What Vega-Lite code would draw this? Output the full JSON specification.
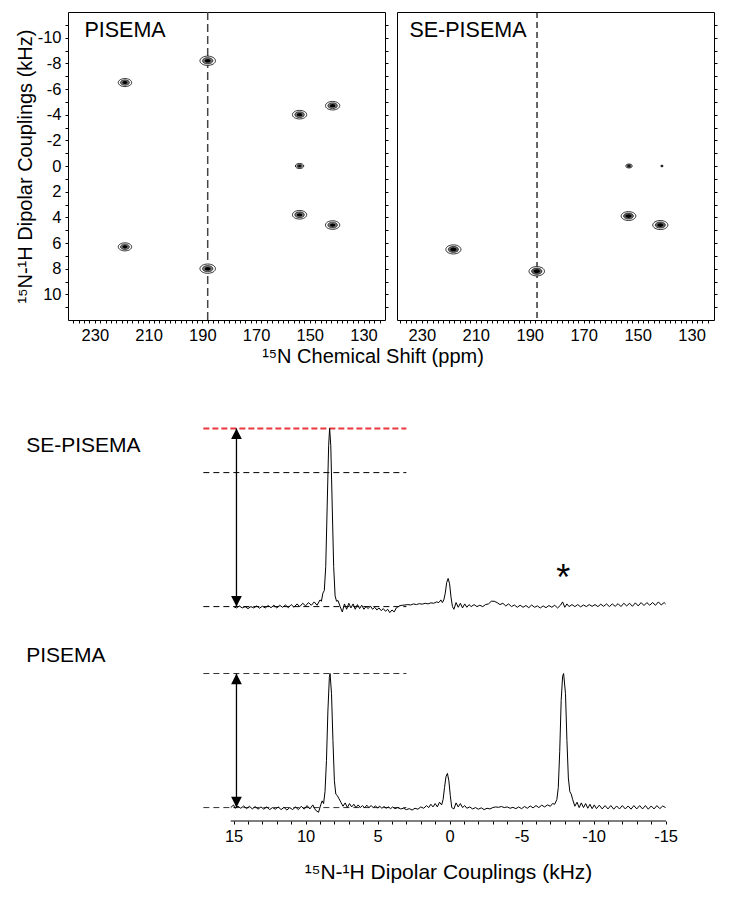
{
"$schema": "https://vega.github.io/schema/vega-lite/v6.json",
"background": "white",
"padding": {"left": 14, "top": 10, "right": 5, "bottom": 5},
"config": {
  "view": {"stroke": null},
  "font": "Liberation Sans",
  "axis": {"labelFont": "Liberation Sans", "titleFont": "Liberation Sans", "labelColor": "#000", "titleColor": "#000", "tickColor": "#000", "domainColor": "#000", "grid": false, "titleFontWeight": "normal", "labelOverlap": false, "labelFlush": false}
},
"datasets": {
  "pisema2d": [
    {"cs": 218.8, "dc": -6.5, "intensity": 0.75},
    {"cs": 218.8, "dc": 6.3, "intensity": 0.75},
    {"cs": 188.0, "dc": -8.2, "intensity": 1.0},
    {"cs": 188.0, "dc": 8.0, "intensity": 1.0},
    {"cs": 153.8, "dc": -4.0, "intensity": 0.85},
    {"cs": 141.5, "dc": -4.7, "intensity": 0.85},
    {"cs": 153.8, "dc": 0.0, "intensity": 0.3},
    {"cs": 153.8, "dc": 3.8, "intensity": 0.85},
    {"cs": 141.5, "dc": 4.6, "intensity": 0.85}
  ],
  "sepisema2d": [
    {"cs": 218.3, "dc": 6.5, "intensity": 0.95},
    {"cs": 187.4, "dc": 8.2, "intensity": 1.0},
    {"cs": 153.2, "dc": 0.0, "intensity": 0.18},
    {"cs": 141.0, "dc": 0.0, "intensity": 0.03},
    {"cs": 153.4, "dc": 3.9, "intensity": 0.9},
    {"cs": 141.6, "dc": 4.6, "intensity": 0.95}
  ],
  "se1d": [
    {"khz": 15.0, "intensity": 0.0}, {"khz": 14.8, "intensity": -0.01}, {"khz": 14.6, "intensity": 0.005}, {"khz": 14.4, "intensity": -0.01}, {"khz": 14.2, "intensity": 0.0}, {"khz": 14.0, "intensity": -0.015}, {"khz": 13.8, "intensity": 0.0}, {"khz": 13.6, "intensity": -0.01}, {"khz": 13.4, "intensity": 0.005}, {"khz": 13.2, "intensity": -0.012}, {"khz": 13.0, "intensity": 0.003}, {"khz": 12.8, "intensity": -0.01}, {"khz": 12.6, "intensity": 0.008}, {"khz": 12.4, "intensity": -0.008}, {"khz": 12.2, "intensity": 0.01}, {"khz": 12.0, "intensity": -0.01}, {"khz": 11.8, "intensity": 0.01}, {"khz": 11.6, "intensity": -0.005}, {"khz": 11.4, "intensity": 0.012}, {"khz": 11.2, "intensity": -0.008}, {"khz": 11.0, "intensity": 0.015}, {"khz": 10.8, "intensity": -0.005}, {"khz": 10.6, "intensity": 0.02}, {"khz": 10.4, "intensity": 0.0}, {"khz": 10.2, "intensity": 0.025}, {"khz": 10.0, "intensity": 0.005}, {"khz": 9.8, "intensity": 0.03}, {"khz": 9.6, "intensity": 0.01}, {"khz": 9.4, "intensity": 0.035}, {"khz": 9.2, "intensity": 0.01}, {"khz": 9.0, "intensity": 0.05}, {"khz": 8.9, "intensity": 0.04}, {"khz": 8.8, "intensity": 0.1}, {"khz": 8.7, "intensity": 0.12}, {"khz": 8.6, "intensity": 0.3}, {"khz": 8.5, "intensity": 0.75}, {"khz": 8.4, "intensity": 1.2}, {"khz": 8.33, "intensity": 1.33}, {"khz": 8.25, "intensity": 1.2}, {"khz": 8.15, "intensity": 0.75}, {"khz": 8.05, "intensity": 0.3}, {"khz": 7.95, "intensity": 0.08}, {"khz": 7.85, "intensity": 0.04}, {"khz": 7.75, "intensity": 0.045}, {"khz": 7.6, "intensity": 0.0}, {"khz": 7.45, "intensity": -0.04}, {"khz": 7.3, "intensity": 0.02}, {"khz": 7.15, "intensity": -0.02}, {"khz": 7.0, "intensity": 0.025}, {"khz": 6.85, "intensity": -0.01}, {"khz": 6.7, "intensity": 0.02}, {"khz": 6.55, "intensity": -0.02}, {"khz": 6.4, "intensity": 0.015}, {"khz": 6.25, "intensity": -0.015}, {"khz": 6.1, "intensity": 0.01}, {"khz": 5.95, "intensity": -0.02}, {"khz": 5.8, "intensity": 0.0}, {"khz": 5.65, "intensity": -0.015}, {"khz": 5.5, "intensity": 0.005}, {"khz": 5.35, "intensity": -0.02}, {"khz": 5.2, "intensity": -0.005}, {"khz": 5.05, "intensity": -0.025}, {"khz": 4.9, "intensity": -0.01}, {"khz": 4.75, "intensity": -0.03}, {"khz": 4.6, "intensity": -0.015}, {"khz": 4.45, "intensity": -0.035}, {"khz": 4.3, "intensity": -0.02}, {"khz": 4.15, "intensity": -0.045}, {"khz": 4.0, "intensity": -0.025}, {"khz": 3.85, "intensity": -0.04}, {"khz": 3.7, "intensity": -0.01}, {"khz": 3.5, "intensity": 0.005}, {"khz": 3.3, "intensity": 0.01}, {"khz": 3.1, "intensity": 0.012}, {"khz": 2.9, "intensity": 0.015}, {"khz": 2.7, "intensity": 0.012}, {"khz": 2.5, "intensity": 0.02}, {"khz": 2.3, "intensity": 0.015}, {"khz": 2.1, "intensity": 0.022}, {"khz": 1.9, "intensity": 0.018}, {"khz": 1.7, "intensity": 0.025}, {"khz": 1.5, "intensity": 0.02}, {"khz": 1.3, "intensity": 0.028}, {"khz": 1.1, "intensity": 0.025}, {"khz": 0.9, "intensity": 0.035}, {"khz": 0.75, "intensity": 0.03}, {"khz": 0.6, "intensity": 0.05}, {"khz": 0.5, "intensity": 0.03}, {"khz": 0.4, "intensity": 0.05}, {"khz": 0.3, "intensity": 0.1}, {"khz": 0.2, "intensity": 0.18}, {"khz": 0.1, "intensity": 0.21}, {"khz": 0.0, "intensity": 0.17}, {"khz": -0.1, "intensity": 0.07}, {"khz": -0.2, "intensity": 0.0}, {"khz": -0.3, "intensity": -0.02}, {"khz": -0.45, "intensity": 0.03}, {"khz": -0.6, "intensity": -0.005}, {"khz": -0.75, "intensity": 0.025}, {"khz": -0.9, "intensity": -0.01}, {"khz": -1.05, "intensity": 0.02}, {"khz": -1.2, "intensity": -0.005}, {"khz": -1.35, "intensity": 0.015}, {"khz": -1.5, "intensity": 0.0}, {"khz": -1.7, "intensity": 0.015}, {"khz": -1.9, "intensity": 0.0}, {"khz": -2.1, "intensity": 0.01}, {"khz": -2.3, "intensity": 0.0}, {"khz": -2.5, "intensity": 0.015}, {"khz": -2.7, "intensity": 0.02}, {"khz": -2.9, "intensity": 0.04}, {"khz": -3.1, "intensity": 0.04}, {"khz": -3.3, "intensity": 0.03}, {"khz": -3.5, "intensity": 0.015}, {"khz": -3.7, "intensity": 0.025}, {"khz": -3.9, "intensity": 0.005}, {"khz": -4.1, "intensity": 0.02}, {"khz": -4.3, "intensity": 0.0}, {"khz": -4.5, "intensity": 0.012}, {"khz": -4.7, "intensity": -0.005}, {"khz": -4.9, "intensity": 0.01}, {"khz": -5.1, "intensity": -0.005}, {"khz": -5.3, "intensity": 0.008}, {"khz": -5.5, "intensity": -0.008}, {"khz": -5.7, "intensity": 0.012}, {"khz": -5.9, "intensity": -0.005}, {"khz": -6.1, "intensity": 0.005}, {"khz": -6.3, "intensity": -0.01}, {"khz": -6.5, "intensity": 0.005}, {"khz": -6.7, "intensity": -0.008}, {"khz": -6.9, "intensity": 0.008}, {"khz": -7.1, "intensity": -0.005}, {"khz": -7.3, "intensity": 0.01}, {"khz": -7.5, "intensity": -0.01}, {"khz": -7.7, "intensity": 0.01}, {"khz": -7.85, "intensity": 0.035}, {"khz": -8.0, "intensity": -0.005}, {"khz": -8.15, "intensity": 0.02}, {"khz": -8.3, "intensity": 0.0}, {"khz": -8.5, "intensity": 0.015}, {"khz": -8.7, "intensity": 0.0}, {"khz": -8.9, "intensity": 0.015}, {"khz": -9.1, "intensity": -0.002}, {"khz": -9.3, "intensity": 0.012}, {"khz": -9.5, "intensity": 0.0}, {"khz": -9.7, "intensity": 0.015}, {"khz": -9.9, "intensity": 0.002}, {"khz": -10.1, "intensity": 0.015}, {"khz": -10.3, "intensity": 0.0}, {"khz": -10.5, "intensity": 0.018}, {"khz": -10.7, "intensity": 0.002}, {"khz": -10.9, "intensity": 0.02}, {"khz": -11.1, "intensity": 0.0}, {"khz": -11.3, "intensity": 0.02}, {"khz": -11.5, "intensity": 0.002}, {"khz": -11.7, "intensity": 0.022}, {"khz": -11.9, "intensity": 0.0}, {"khz": -12.1, "intensity": 0.025}, {"khz": -12.3, "intensity": 0.005}, {"khz": -12.5, "intensity": 0.025}, {"khz": -12.7, "intensity": 0.002}, {"khz": -12.9, "intensity": 0.028}, {"khz": -13.1, "intensity": 0.005}, {"khz": -13.3, "intensity": 0.03}, {"khz": -13.5, "intensity": 0.008}, {"khz": -13.7, "intensity": 0.03}, {"khz": -13.9, "intensity": 0.01}, {"khz": -14.1, "intensity": 0.03}, {"khz": -14.3, "intensity": 0.01}, {"khz": -14.5, "intensity": 0.035}, {"khz": -14.7, "intensity": 0.012}, {"khz": -14.9, "intensity": 0.03}, {"khz": -15.0, "intensity": 0.02}
  ],
  "pisema1d": [
    {"khz": 15.2, "intensity": 0.0}, {"khz": 15.0, "intensity": 0.02}, {"khz": 14.9, "intensity": -0.005}, {"khz": 14.7, "intensity": 0.01}, {"khz": 14.5, "intensity": -0.005}, {"khz": 14.3, "intensity": 0.012}, {"khz": 14.1, "intensity": -0.008}, {"khz": 13.9, "intensity": 0.01}, {"khz": 13.7, "intensity": -0.01}, {"khz": 13.5, "intensity": 0.008}, {"khz": 13.3, "intensity": -0.012}, {"khz": 13.1, "intensity": 0.005}, {"khz": 12.9, "intensity": -0.012}, {"khz": 12.7, "intensity": 0.005}, {"khz": 12.5, "intensity": -0.015}, {"khz": 12.3, "intensity": 0.0}, {"khz": 12.1, "intensity": -0.012}, {"khz": 11.9, "intensity": 0.005}, {"khz": 11.7, "intensity": -0.015}, {"khz": 11.5, "intensity": 0.002}, {"khz": 11.3, "intensity": -0.018}, {"khz": 11.1, "intensity": 0.0}, {"khz": 10.9, "intensity": -0.015}, {"khz": 10.7, "intensity": 0.005}, {"khz": 10.5, "intensity": -0.015}, {"khz": 10.3, "intensity": 0.01}, {"khz": 10.1, "intensity": -0.012}, {"khz": 9.9, "intensity": 0.015}, {"khz": 9.7, "intensity": -0.01}, {"khz": 9.5, "intensity": 0.02}, {"khz": 9.3, "intensity": -0.02}, {"khz": 9.1, "intensity": -0.035}, {"khz": 8.95, "intensity": 0.02}, {"khz": 8.85, "intensity": 0.05}, {"khz": 8.75, "intensity": 0.03}, {"khz": 8.65, "intensity": 0.12}, {"khz": 8.55, "intensity": 0.35}, {"khz": 8.45, "intensity": 0.72}, {"khz": 8.35, "intensity": 0.97}, {"khz": 8.3, "intensity": 1.0}, {"khz": 8.2, "intensity": 0.85}, {"khz": 8.1, "intensity": 0.5}, {"khz": 8.0, "intensity": 0.2}, {"khz": 7.9, "intensity": 0.1}, {"khz": 7.8, "intensity": 0.09}, {"khz": 7.7, "intensity": 0.07}, {"khz": 7.55, "intensity": 0.04}, {"khz": 7.4, "intensity": 0.01}, {"khz": 7.25, "intensity": 0.035}, {"khz": 7.1, "intensity": 0.0}, {"khz": 6.95, "intensity": 0.03}, {"khz": 6.8, "intensity": 0.005}, {"khz": 6.65, "intensity": 0.025}, {"khz": 6.5, "intensity": 0.0}, {"khz": 6.35, "intensity": 0.02}, {"khz": 6.2, "intensity": 0.0}, {"khz": 6.05, "intensity": 0.015}, {"khz": 5.9, "intensity": -0.002}, {"khz": 5.75, "intensity": 0.018}, {"khz": 5.6, "intensity": 0.0}, {"khz": 5.45, "intensity": 0.015}, {"khz": 5.3, "intensity": 0.0}, {"khz": 5.15, "intensity": 0.012}, {"khz": 5.0, "intensity": -0.002}, {"khz": 4.85, "intensity": 0.01}, {"khz": 4.7, "intensity": -0.005}, {"khz": 4.55, "intensity": 0.008}, {"khz": 4.4, "intensity": -0.005}, {"khz": 4.25, "intensity": 0.005}, {"khz": 4.1, "intensity": -0.008}, {"khz": 3.95, "intensity": 0.005}, {"khz": 3.8, "intensity": -0.008}, {"khz": 3.6, "intensity": 0.0}, {"khz": 3.4, "intensity": -0.01}, {"khz": 3.2, "intensity": -0.005}, {"khz": 3.0, "intensity": -0.015}, {"khz": 2.8, "intensity": -0.008}, {"khz": 2.6, "intensity": -0.018}, {"khz": 2.4, "intensity": -0.005}, {"khz": 2.2, "intensity": -0.012}, {"khz": 2.0, "intensity": 0.005}, {"khz": 1.8, "intensity": -0.005}, {"khz": 1.6, "intensity": 0.015}, {"khz": 1.45, "intensity": 0.0}, {"khz": 1.3, "intensity": 0.025}, {"khz": 1.15, "intensity": 0.005}, {"khz": 1.0, "intensity": 0.03}, {"khz": 0.85, "intensity": 0.005}, {"khz": 0.7, "intensity": 0.04}, {"khz": 0.55, "intensity": 0.02}, {"khz": 0.45, "intensity": 0.06}, {"khz": 0.35, "intensity": 0.15}, {"khz": 0.25, "intensity": 0.23}, {"khz": 0.15, "intensity": 0.255}, {"khz": 0.05, "intensity": 0.2}, {"khz": -0.05, "intensity": 0.09}, {"khz": -0.15, "intensity": 0.0}, {"khz": -0.3, "intensity": -0.01}, {"khz": -0.45, "intensity": 0.035}, {"khz": -0.6, "intensity": 0.005}, {"khz": -0.75, "intensity": 0.03}, {"khz": -0.9, "intensity": 0.0}, {"khz": -1.05, "intensity": 0.015}, {"khz": -1.2, "intensity": -0.005}, {"khz": -1.4, "intensity": 0.005}, {"khz": -1.6, "intensity": -0.01}, {"khz": -1.8, "intensity": 0.0}, {"khz": -2.0, "intensity": -0.012}, {"khz": -2.2, "intensity": -0.002}, {"khz": -2.4, "intensity": -0.015}, {"khz": -2.6, "intensity": -0.005}, {"khz": -2.8, "intensity": -0.01}, {"khz": -3.0, "intensity": 0.0}, {"khz": -3.2, "intensity": 0.005}, {"khz": -3.4, "intensity": 0.002}, {"khz": -3.6, "intensity": 0.008}, {"khz": -3.8, "intensity": 0.0}, {"khz": -4.0, "intensity": 0.005}, {"khz": -4.2, "intensity": -0.005}, {"khz": -4.4, "intensity": 0.002}, {"khz": -4.6, "intensity": -0.008}, {"khz": -4.8, "intensity": 0.005}, {"khz": -5.0, "intensity": -0.008}, {"khz": -5.2, "intensity": 0.008}, {"khz": -5.4, "intensity": -0.005}, {"khz": -5.6, "intensity": 0.012}, {"khz": -5.8, "intensity": -0.002}, {"khz": -6.0, "intensity": 0.015}, {"khz": -6.2, "intensity": 0.0}, {"khz": -6.4, "intensity": 0.018}, {"khz": -6.6, "intensity": 0.005}, {"khz": -6.8, "intensity": 0.02}, {"khz": -7.0, "intensity": 0.01}, {"khz": -7.15, "intensity": 0.03}, {"khz": -7.3, "intensity": 0.025}, {"khz": -7.45, "intensity": 0.06}, {"khz": -7.55, "intensity": 0.15}, {"khz": -7.65, "intensity": 0.42}, {"khz": -7.75, "intensity": 0.8}, {"khz": -7.85, "intensity": 0.98}, {"khz": -7.92, "intensity": 1.0}, {"khz": -8.05, "intensity": 0.85}, {"khz": -8.15, "intensity": 0.5}, {"khz": -8.25, "intensity": 0.22}, {"khz": -8.35, "intensity": 0.12}, {"khz": -8.45, "intensity": 0.1}, {"khz": -8.55, "intensity": 0.06}, {"khz": -8.7, "intensity": 0.01}, {"khz": -8.85, "intensity": 0.04}, {"khz": -9.0, "intensity": 0.0}, {"khz": -9.15, "intensity": 0.035}, {"khz": -9.3, "intensity": 0.0}, {"khz": -9.45, "intensity": 0.03}, {"khz": -9.6, "intensity": -0.005}, {"khz": -9.75, "intensity": 0.025}, {"khz": -9.9, "intensity": -0.008}, {"khz": -10.05, "intensity": 0.02}, {"khz": -10.2, "intensity": -0.008}, {"khz": -10.4, "intensity": 0.018}, {"khz": -10.6, "intensity": -0.01}, {"khz": -10.8, "intensity": 0.015}, {"khz": -11.0, "intensity": -0.01}, {"khz": -11.2, "intensity": 0.015}, {"khz": -11.4, "intensity": -0.012}, {"khz": -11.6, "intensity": 0.012}, {"khz": -11.8, "intensity": -0.01}, {"khz": -12.0, "intensity": 0.015}, {"khz": -12.2, "intensity": -0.01}, {"khz": -12.4, "intensity": 0.012}, {"khz": -12.6, "intensity": -0.012}, {"khz": -12.8, "intensity": 0.015}, {"khz": -13.0, "intensity": -0.01}, {"khz": -13.2, "intensity": 0.015}, {"khz": -13.4, "intensity": -0.01}, {"khz": -13.6, "intensity": 0.015}, {"khz": -13.8, "intensity": -0.012}, {"khz": -14.0, "intensity": 0.012}, {"khz": -14.2, "intensity": -0.01}, {"khz": -14.4, "intensity": 0.015}, {"khz": -14.6, "intensity": -0.008}, {"khz": -14.8, "intensity": 0.012}, {"khz": -15.0, "intensity": 0.0}
  ]
},
"spacing": 52,
"vconcat": [
  {
    "bounds": "flush",
    "spacing": 12,
    "hconcat": [
      {
        "width": 317, "height": 308,
        "view": {"stroke": "#000", "strokeWidth": 1},
        "resolve": {"axis": {"y": "independent"}, "scale": {"size": "independent"}},
        "layer": [
          {
            "data": {"values": [{}]},
            "mark": {"type": "rule", "color": "#444", "strokeDash": [8, 4], "strokeWidth": 1.5},
            "encoding": {"x": {"datum": 188, "type": "quantitative", "scale": {"domain": [122, 240], "reverse": true, "nice": false, "zero": false}}}
          },
          {
            "data": {"name": "pisema2d"},
            "mark": {"type": "point", "shape": "M-1,0A1,0.6 0 1,0 1,0A1,0.6 0 1,0 -1,0Z", "filled": true, "fill": "#fff", "stroke": "#000", "strokeWidth": 0.8, "opacity": 1},
            "encoding": {
              "x": {"field": "cs", "type": "quantitative", "scale": {"domain": [122, 240], "reverse": true, "nice": false, "zero": false},
                    "axis": {"title": "¹⁵N Chemical Shift (ppm)", "titleX": 304.5, "titleFontSize": 20, "titlePadding": 3, "domain": false, "tickSize": 3, "tickCount": 200, "labelPadding": 4, "labelFontSize": 16.5, "labelOverlap": false, "labelFlush": false,
                             "values": [124,126,128,130,132,134,136,138,140,142,144,146,148,150,152,154,156,158,160,162,164,166,168,170,172,174,176,178,180,182,184,186,188,190,192,194,196,198,200,202,204,206,208,210,212,214,216,218,220,222,224,226,228,230,232,234,236,238],
                             "labelExpr": "datum.value % 20 == 10 ? toString(datum.value) : ''"}},
              "y": {"field": "dc", "type": "quantitative", "scale": {"domain": [-12, 12], "reverse": true, "nice": false, "zero": false},
                    "axis": {"title": "¹⁵N-¹H Dipolar Couplings (kHz)", "titleFontSize": 20, "titlePadding": 2, "domain": false, "tickSize": 3, "tickCount": 200, "labelPadding": 4, "labelFontSize": 16.5, "labelOverlap": false,
                             "values": [-11,-10,-9,-8,-7,-6,-5,-4,-3,-2,-1,0,1,2,3,4,5,6,7,8,9,10,11],
                             "labelExpr": "datum.value % 2 == 0 && abs(datum.value) <= 10 ? toString(datum.value) : ''"}},
              "size": {"field": "intensity", "type": "quantitative", "scale": {"domain": [0, 1], "range": [0, 240]}, "legend": null}
            }
          },
          {
            "data": {"name": "pisema2d"},
            "mark": {"type": "point", "shape": "M-1,0A1,0.6 0 1,0 1,0A1,0.6 0 1,0 -1,0Z", "filled": true, "fill": "#777", "stroke": "#000", "strokeWidth": 0.6, "opacity": 1},
            "encoding": {
              "x": {"field": "cs", "type": "quantitative"},
              "y": {"field": "dc", "type": "quantitative", "axis": null},
              "size": {"field": "intensity", "type": "quantitative", "scale": {"domain": [0, 1], "range": [0, 110]}, "legend": null}
            }
          },
          {
            "data": {"name": "pisema2d"},
            "mark": {"type": "point", "shape": "M-1,0A1,0.6 0 1,0 1,0A1,0.6 0 1,0 -1,0Z", "filled": true, "fill": "#000", "opacity": 1},
            "encoding": {
              "x": {"field": "cs", "type": "quantitative"},
              "y": {"field": "dc", "type": "quantitative", "axis": null},
              "size": {"field": "intensity", "type": "quantitative", "scale": {"domain": [0, 1], "range": [0, 35]}, "legend": null}
            }
          },
          {
            "data": {"name": "pisema2d"},
            "mark": {"type": "point", "opacity": 0},
            "encoding": {
              "x": {"field": "cs", "type": "quantitative"},
              "y": {"field": "dc", "type": "quantitative", "axis": {"orient": "right", "title": null, "labels": false, "domain": false, "tickSize": 3, "tickCount": 200, "values": [-11,-10,-9,-8,-7,-6,-5,-4,-3,-2,-1,0,1,2,3,4,5,6,7,8,9,10,11]}}
            }
          },
          {
            "data": {"values": [{}]},
            "mark": {"type": "text", "text": "PISEMA", "align": "left", "baseline": "middle", "fontSize": 21.5, "font": "Liberation Sans", "color": "#000"},
            "encoding": {"x": {"datum": 233.9, "type": "quantitative"}, "y": {"datum": -10.5, "type": "quantitative", "axis": null}}
          }
        ]
      },
      {
        "width": 317, "height": 308,
        "view": {"stroke": "#000", "strokeWidth": 1},
        "resolve": {"scale": {"size": "independent"}},
        "layer": [
          {
            "data": {"values": [{}]},
            "mark": {"type": "rule", "color": "#000", "strokeDash": [6, 4], "strokeWidth": 1.2},
            "encoding": {"x": {"datum": 187.3, "type": "quantitative", "scale": {"domain": [121.7, 239.2], "reverse": true, "nice": false, "zero": false}}}
          },
          {
            "data": {"name": "sepisema2d"},
            "mark": {"type": "point", "shape": "M-1,0A1,0.6 0 1,0 1,0A1,0.6 0 1,0 -1,0Z", "filled": true, "fill": "#fff", "stroke": "#000", "strokeWidth": 0.8, "opacity": 1},
            "encoding": {
              "x": {"field": "cs", "type": "quantitative", "scale": {"domain": [121.7, 239.2], "reverse": true, "nice": false, "zero": false},
                    "axis": {"title": null, "domain": false, "tickSize": 3, "tickCount": 200, "labelPadding": 4, "labelFontSize": 16.5, "labelOverlap": false, "labelFlush": false,
                             "values": [124,126,128,130,132,134,136,138,140,142,144,146,148,150,152,154,156,158,160,162,164,166,168,170,172,174,176,178,180,182,184,186,188,190,192,194,196,198,200,202,204,206,208,210,212,214,216,218,220,222,224,226,228,230,232,234,236,238],
                             "labelExpr": "datum.value % 20 == 10 ? toString(datum.value) : ''"}},
              "y": {"field": "dc", "type": "quantitative", "scale": {"domain": [-12, 12], "reverse": true, "nice": false, "zero": false},
                    "axis": {"orient": "right", "title": null, "labels": false, "domain": false, "tickSize": 3, "tickCount": 200, "values": [-11,-10,-9,-8,-7,-6,-5,-4,-3,-2,-1,0,1,2,3,4,5,6,7,8,9,10,11]}},
              "size": {"field": "intensity", "type": "quantitative", "scale": {"domain": [0, 1], "range": [0, 240]}, "legend": null}
            }
          },
          {
            "data": {"name": "sepisema2d"},
            "mark": {"type": "point", "shape": "M-1,0A1,0.6 0 1,0 1,0A1,0.6 0 1,0 -1,0Z", "filled": true, "fill": "#666", "stroke": "#000", "strokeWidth": 0.6, "opacity": 1},
            "encoding": {
              "x": {"field": "cs", "type": "quantitative"},
              "y": {"field": "dc", "type": "quantitative"},
              "size": {"field": "intensity", "type": "quantitative", "scale": {"domain": [0, 1], "range": [0, 110]}, "legend": null}
            }
          },
          {
            "data": {"name": "sepisema2d"},
            "mark": {"type": "point", "shape": "M-1,0A1,0.6 0 1,0 1,0A1,0.6 0 1,0 -1,0Z", "filled": true, "fill": "#000", "opacity": 1},
            "encoding": {
              "x": {"field": "cs", "type": "quantitative"},
              "y": {"field": "dc", "type": "quantitative"},
              "size": {"field": "intensity", "type": "quantitative", "scale": {"domain": [0, 1], "range": [0, 40]}, "legend": null}
            }
          },
          {
            "data": {"values": [{}]},
            "mark": {"type": "text", "text": "SE-PISEMA", "align": "left", "baseline": "middle", "fontSize": 21.5, "font": "Liberation Sans", "color": "#000"},
            "encoding": {"x": {"datum": 234.6, "type": "quantitative"}, "y": {"datum": -10.5, "type": "quantitative"}}
          }
        ]
      }
    ]
  },
  {
    "bounds": "flush",
    "spacing": 20,
    "vconcat": [
      {
        "width": 598, "height": 201,
        "layer": [
          {
            "data": {"values": [{}]},
            "mark": {"type": "rule", "color": "#000", "strokeDash": [6, 4], "strokeWidth": 1},
            "encoding": {"x": {"datum": 17.1, "type": "quantitative", "scale": {"domain": [-15.03, 26.5], "reverse": true, "nice": false, "zero": false}, "axis": null}, "x2": {"datum": 3.0}, "y": {"datum": 1.0, "type": "quantitative", "scale": {"domain": [-0.1, 1.4], "nice": false, "zero": false}, "axis": null}}
          },
          {
            "data": {"values": [{}]},
            "mark": {"type": "rule", "color": "#000", "strokeDash": [6, 4], "strokeWidth": 1},
            "encoding": {"x": {"datum": 17.1, "type": "quantitative", "scale": {"domain": [-15.03, 26.5], "reverse": true, "nice": false, "zero": false}, "axis": null}, "x2": {"datum": 3.0}, "y": {"datum": 0, "type": "quantitative", "scale": {"domain": [-0.1, 1.4], "nice": false, "zero": false}, "axis": null}}
          },
          {
            "data": {"values": [{}]},
            "mark": {"type": "rule", "color": "#e8383d", "strokeDash": [6, 3], "strokeWidth": 2},
            "encoding": {"x": {"datum": 17.1, "type": "quantitative", "scale": {"domain": [-15.03, 26.5], "reverse": true, "nice": false, "zero": false}, "axis": null}, "x2": {"datum": 3.0}, "y": {"datum": 1.33, "type": "quantitative", "scale": {"domain": [-0.1, 1.4], "nice": false, "zero": false}, "axis": null}}
          },
          {
            "data": {"values": [{}]},
            "mark": {"type": "rule", "color": "#000", "strokeWidth": 1.3},
            "encoding": {"x": {"datum": 14.8, "type": "quantitative", "scale": {"domain": [-15.03, 26.5], "reverse": true, "nice": false, "zero": false}, "axis": null}, "y": {"datum": 0, "type": "quantitative", "scale": {"domain": [-0.1, 1.4], "nice": false, "zero": false}, "axis": null}, "y2": {"datum": 1.33}}
          },
          {
            "data": {"values": [{}]},
            "mark": {"type": "point", "shape": "M0,0L0.5,1L-0.5,1Z", "filled": true, "color": "#000", "size": 460, "opacity": 1},
            "encoding": {"x": {"datum": 14.8, "type": "quantitative", "scale": {"domain": [-15.03, 26.5], "reverse": true, "nice": false, "zero": false}, "axis": null}, "y": {"datum": 1.33, "type": "quantitative", "scale": {"domain": [-0.1, 1.4], "nice": false, "zero": false}, "axis": null}}
          },
          {
            "data": {"values": [{}]},
            "mark": {"type": "point", "shape": "M0,0L0.5,-1L-0.5,-1Z", "filled": true, "color": "#000", "size": 460, "opacity": 1},
            "encoding": {"x": {"datum": 14.8, "type": "quantitative", "scale": {"domain": [-15.03, 26.5], "reverse": true, "nice": false, "zero": false}, "axis": null}, "y": {"datum": 0, "type": "quantitative", "scale": {"domain": [-0.1, 1.4], "nice": false, "zero": false}, "axis": null}}
          },
          {
            "data": {"name": "se1d"},
            "mark": {"type": "line", "color": "#000", "strokeWidth": 1},
            "encoding": {"x": {"field": "khz", "type": "quantitative", "scale": {"domain": [-15.03, 26.5], "reverse": true, "nice": false, "zero": false}, "axis": null}, "y": {"field": "intensity", "type": "quantitative", "scale": {"domain": [-0.1, 1.4], "nice": false, "zero": false}, "axis": null}}
          },
          {
            "data": {"values": [{}]},
            "mark": {"type": "text", "text": "SE-PISEMA", "align": "left", "baseline": "middle", "fontSize": 21, "font": "Liberation Sans", "color": "#000"},
            "encoding": {"x": {"datum": 29.4, "type": "quantitative", "scale": {"domain": [-15.03, 26.5], "reverse": true, "nice": false, "zero": false}, "axis": null}, "y": {"datum": 1.2, "type": "quantitative", "scale": {"domain": [-0.1, 1.4], "nice": false, "zero": false}, "axis": null}}
          },
          {
            "data": {"values": [{}]},
            "mark": {"type": "text", "text": "*", "align": "center", "baseline": "middle", "fontSize": 36, "dy": 9, "font": "Liberation Sans", "color": "#000"},
            "encoding": {"x": {"datum": -7.9, "type": "quantitative", "scale": {"domain": [-15.03, 26.5], "reverse": true, "nice": false, "zero": false}, "axis": null}, "y": {"datum": 0.27, "type": "quantitative", "scale": {"domain": [-0.1, 1.4], "nice": false, "zero": false}, "axis": null}}
          }
        ]
      },
      {
        "width": 598, "height": 181,
        "layer": [
          {
            "data": {"values": [{}]},
            "mark": {"type": "rule", "color": "#333", "strokeDash": [6, 4], "strokeWidth": 1},
            "encoding": {"x": {"datum": 17.1, "type": "quantitative", "scale": {"domain": [-15.03, 26.5], "reverse": true, "nice": false, "zero": false}}, "x2": {"datum": 3.0}, "y": {"datum": 1.0, "type": "quantitative", "scale": {"domain": [-0.1, 1.25], "nice": false, "zero": false}, "axis": null}}
          },
          {
            "data": {"values": [{}]},
            "mark": {"type": "rule", "color": "#333", "strokeDash": [6, 4], "strokeWidth": 1},
            "encoding": {"x": {"datum": 17.1, "type": "quantitative", "scale": {"domain": [-15.03, 26.5], "reverse": true, "nice": false, "zero": false}}, "x2": {"datum": 3.0}, "y": {"datum": 0, "type": "quantitative", "scale": {"domain": [-0.1, 1.25], "nice": false, "zero": false}, "axis": null}}
          },
          {
            "data": {"values": [{}]},
            "mark": {"type": "rule", "color": "#000", "strokeWidth": 1},
            "encoding": {"x": {"datum": 15.2, "type": "quantitative", "scale": {"domain": [-15.03, 26.5], "reverse": true, "nice": false, "zero": false}}, "x2": {"datum": -15.03}, "y": {"datum": -0.1, "type": "quantitative", "scale": {"domain": [-0.1, 1.25], "nice": false, "zero": false}, "axis": null}}
          },
          {
            "data": {"values": [{}]},
            "mark": {"type": "rule", "color": "#000", "strokeWidth": 1.3},
            "encoding": {"x": {"datum": 14.8, "type": "quantitative", "scale": {"domain": [-15.03, 26.5], "reverse": true, "nice": false, "zero": false}}, "y": {"datum": 0, "type": "quantitative", "scale": {"domain": [-0.1, 1.25], "nice": false, "zero": false}, "axis": null}, "y2": {"datum": 1.0}}
          },
          {
            "data": {"values": [{}]},
            "mark": {"type": "point", "shape": "M0,0L0.5,1L-0.5,1Z", "filled": true, "color": "#000", "size": 460, "opacity": 1},
            "encoding": {"x": {"datum": 14.8, "type": "quantitative", "scale": {"domain": [-15.03, 26.5], "reverse": true, "nice": false, "zero": false}}, "y": {"datum": 1.0, "type": "quantitative", "scale": {"domain": [-0.1, 1.25], "nice": false, "zero": false}, "axis": null}}
          },
          {
            "data": {"values": [{}]},
            "mark": {"type": "point", "shape": "M0,0L0.5,-1L-0.5,-1Z", "filled": true, "color": "#000", "size": 460, "opacity": 1},
            "encoding": {"x": {"datum": 14.8, "type": "quantitative", "scale": {"domain": [-15.03, 26.5], "reverse": true, "nice": false, "zero": false}}, "y": {"datum": 0, "type": "quantitative", "scale": {"domain": [-0.1, 1.25], "nice": false, "zero": false}, "axis": null}}
          },
          {
            "data": {"name": "pisema1d"},
            "mark": {"type": "line", "color": "#000", "strokeWidth": 1},
            "encoding": {
              "x": {"field": "khz", "type": "quantitative", "scale": {"domain": [-15.03, 26.5], "reverse": true, "nice": false, "zero": false},
                    "axis": {"title": "¹⁵N-¹H Dipolar Couplings (kHz)", "titleX": 380, "titleFontSize": 21, "titlePadding": 17, "domain": false, "tickSize": 3, "tickCount": 200, "labelPadding": 4, "labelFontSize": 16.5, "labelOverlap": false, "labelFlush": false,
                             "values": [15,14,13,12,11,10,9,8,7,6,5,4,3,2,1,0,-1,-2,-3,-4,-5,-6,-7,-8,-9,-10,-11,-12,-13,-14,-15],
                             "labelExpr": "datum.value % 5 == 0 ? toString(datum.value) : ''"}},
              "y": {"field": "intensity", "type": "quantitative", "scale": {"domain": [-0.1, 1.25], "nice": false, "zero": false}, "axis": null}
            }
          },
          {
            "data": {"values": [{}]},
            "mark": {"type": "text", "text": "PISEMA", "align": "left", "baseline": "middle", "fontSize": 21, "font": "Liberation Sans", "color": "#000"},
            "encoding": {"x": {"datum": 29.4, "type": "quantitative", "scale": {"domain": [-15.03, 26.5], "reverse": true, "nice": false, "zero": false}}, "y": {"datum": 1.127, "type": "quantitative", "scale": {"domain": [-0.1, 1.25], "nice": false, "zero": false}, "axis": null}}
          }
        ]
      }
    ]
  }
]
}
